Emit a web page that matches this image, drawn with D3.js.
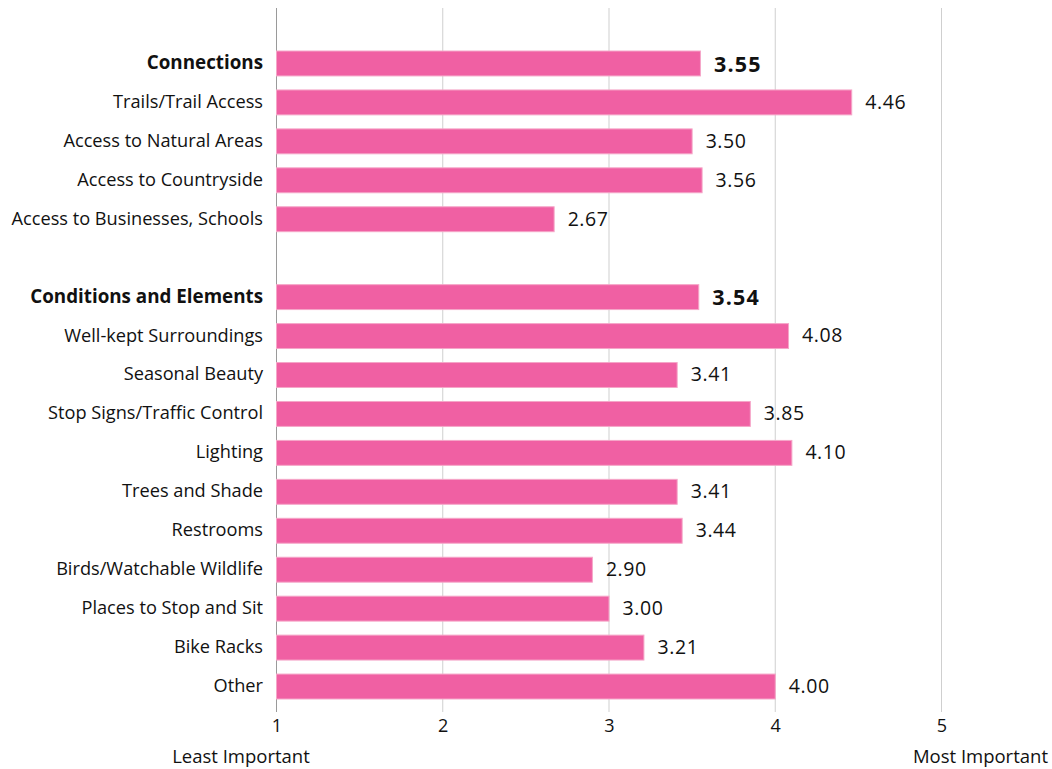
<!DOCTYPE html>
<html>
<head>
<meta charset="utf-8">
<script src="https://cdn.jsdelivr.net/npm/d3@7"></script>
<style>
  body { margin: 0; background: #fff; }
  svg text { font-family: "Open Sans", Lato, sans-serif; fill: #111; }
</style>
</head>
<body>
<svg id="chart" width="1052" height="769"></svg>
<script>
// Importance ratings (1 = least, 5 = most important)
const categories = [
  "Connections",
  "Trails/Trail Access",
  "Access to Natural Areas",
  "Access to Countryside",
  "Access to Businesses, Schools",
  "",
  "Conditions and Elements",
  "Well-kept Surroundings",
  "Seasonal Beauty",
  "Stop Signs/Traffic Control",
  "Lighting",
  "Trees and Shade",
  "Restrooms",
  "Birds/Watchable Wildlife",
  "Places to Stop and Sit",
  "Bike Racks",
  "Other"
];
const values = [3.55, 4.46, 3.50, 3.56, 2.67, null, 3.54, 4.08, 3.41, 3.85, 4.10, 3.41, 3.44, 2.90, 3.00, 3.21, 4.00];
const headers = ["Connections", "Conditions and Elements"];
const tickValues = [1, 2, 3, 4, 5];
const axisEnds = ["Least Important", "Most Important"];

const svg = d3.select("#chart");
const keys = categories.map((c, i) => i);
const isHeader = i => headers.includes(categories[i]);

const x = d3.scaleLinear().domain([1, 5]).range([276, 941]);
const y = d3.scaleBand().domain(keys).range([44, 706]).paddingInner(0.36).paddingOuter(0.18);

// gridlines
svg.append("g")
  .selectAll("line")
  .data(tickValues)
  .join("line")
  .attr("x1", d => x(d) + 0.5)
  .attr("x2", d => x(d) + 0.5)
  .attr("y1", 8)
  .attr("y2", 712)
  .attr("stroke", d => d === 1 ? "#9a9a9a" : "#cfcfcf")
  .attr("stroke-width", 1);

// bars
const rows = keys.filter(i => values[i] != null);
svg.append("g")
  .selectAll("rect")
  .data(rows)
  .join("rect")
  .attr("x", x(1) + 0.5)
  .attr("y", i => y(i))
  .attr("width", i => x(values[i]) - x(1))
  .attr("height", y.bandwidth())
  .attr("fill", "#f060a3")
  .attr("stroke", "#f5a6c8")
  .attr("stroke-width", 1);

// category labels
svg.append("g")
  .selectAll("text")
  .data(rows)
  .join("text")
  .attr("x", 263)
  .attr("y", i => y(i) + y.bandwidth() / 2)
  .attr("dy", "0.3em")
  .attr("text-anchor", "end")
  .attr("font-size", i => isHeader(i) ? 18.8 : 18.2)
  .attr("font-weight", i => isHeader(i) ? 700 : 400)
  .text(i => categories[i]);

// value labels
svg.append("g")
  .selectAll("text")
  .data(rows)
  .join("text")
  .attr("x", i => x(values[i]) + 14)
  .attr("y", i => y(i) + y.bandwidth() / 2 + (isHeader(i) ? 1 : 0))
  .attr("dy", "0.33em")
  .attr("font-size", i => isHeader(i) ? 21.5 : 19.5)
  .attr("font-weight", i => isHeader(i) ? 700 : 400)
  .attr("letter-spacing", i => isHeader(i) ? 1.2 : 0.6)
  .text(i => values[i].toFixed(2));

// x axis tick labels
const axis = d3.axisBottom(x).tickValues(tickValues).tickSize(0).tickPadding(0).tickFormat(d3.format("d"));
const ax = svg.append("g").attr("transform", "translate(0.5,719)").call(axis);
ax.select(".domain").remove();
ax.selectAll("text").attr("font-size", 18).style("font-family", "'Open Sans', Lato, sans-serif").attr("fill", "#111");

// scale end captions
svg.append("text")
  .attr("x", 241).attr("y", 763)
  .attr("text-anchor", "middle")
  .attr("font-size", 18.5)
  .text(axisEnds[0]);
svg.append("text")
  .attr("x", 1048).attr("y", 763)
  .attr("text-anchor", "end")
  .attr("font-size", 18.5)
  .text(axisEnds[1]);
</script>
</body>
</html>
